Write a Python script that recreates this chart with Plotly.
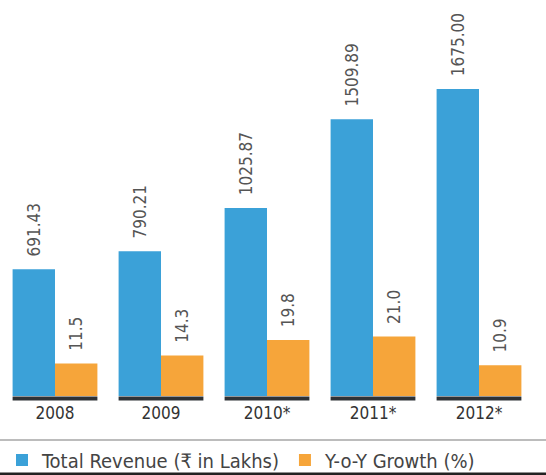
import plotly.graph_objects as go

years = ["2008", "2009", "2010*", "2011*", "2012*"]
revenue = [691.43, 790.21, 1025.87, 1509.89, 1675.00]
growth = [11.5, 14.3, 19.8, 21.0, 10.9]

BLUE = "#3ba1d8"
ORANGE = "#f6a53a"
FONT = "DejaVu Sans Condensed, DejaVu Sans, sans-serif"

fig = go.Figure()
fig.add_trace(go.Bar(
    x=years, y=revenue, name="Total Revenue (₹ in Lakhs)",
    marker=dict(color=BLUE, line=dict(width=0)),
    text=["  " + f"{v:.2f}" for v in revenue], textposition="outside",
    textangle=-90, cliponaxis=False, constraintext="none",
    textfont=dict(family=FONT, size=17, color="#555555"),
    yaxis="y", offsetgroup="g1",
))
fig.add_trace(go.Bar(
    x=years, y=growth, name="Y-o-Y Growth (%)",
    marker=dict(color=ORANGE, line=dict(width=0)),
    text=["  " + f"{v:.1f}" for v in growth], textposition="outside",
    textangle=-90, cliponaxis=False, constraintext="none",
    textfont=dict(family=FONT, size=17, color="#555555"),
    yaxis="y2", offsetgroup="g2",
))

shapes = []
for i in range(len(years)):
    shapes.append(dict(type="line", xref="x", yref="paper",
                       x0=i - 0.4, x1=i + 0.4, y0=-0.006, y1=-0.006,
                       line=dict(color="#2e3236", width=4)))
shapes.append(dict(type="line", xref="paper", yref="paper", x0=-0.01, x1=1.03,
                   y0=-0.111, y1=-0.111, line=dict(color="#bcbcbc", width=2)))
shapes.append(dict(type="line", xref="paper", yref="paper", x0=-0.01, x1=1.03,
                   y0=-0.197, y1=-0.197, line=dict(color="#222222", width=3)))

fig.update_layout(
    width=546, height=475,
    margin=dict(l=2, r=14, t=0, b=79, autoexpand=False),
    paper_bgcolor="white", plot_bgcolor="white",
    barmode="group", bargap=0.2, bargroupgap=0,
    font=dict(family=FONT, color="#333333"),
    xaxis=dict(showgrid=False, showline=False, ticks="", zeroline=False,
               automargin=False, ticklabelstandoff=5,
               tickfont=dict(family=FONT, size=17, color="#333333")),
    yaxis=dict(range=[0, 2160], visible=False, showgrid=False),
    yaxis2=dict(range=[0, 140], visible=False, showgrid=False,
                overlaying="y", side="right"),
    legend=dict(orientation="h", x=0.0, xanchor="left", y=-0.1616, yanchor="middle",
                font=dict(family=FONT, size=20, color="#444444"),
                itemwidth=30, traceorder="normal", bgcolor="rgba(0,0,0,0)"),
    shapes=shapes,
    showlegend=True,
)

fig.write_html("out.html", config={"displayModeBar": False},
               post_script="document.body.style.margin='0';document.body.style.overflow='hidden';")
